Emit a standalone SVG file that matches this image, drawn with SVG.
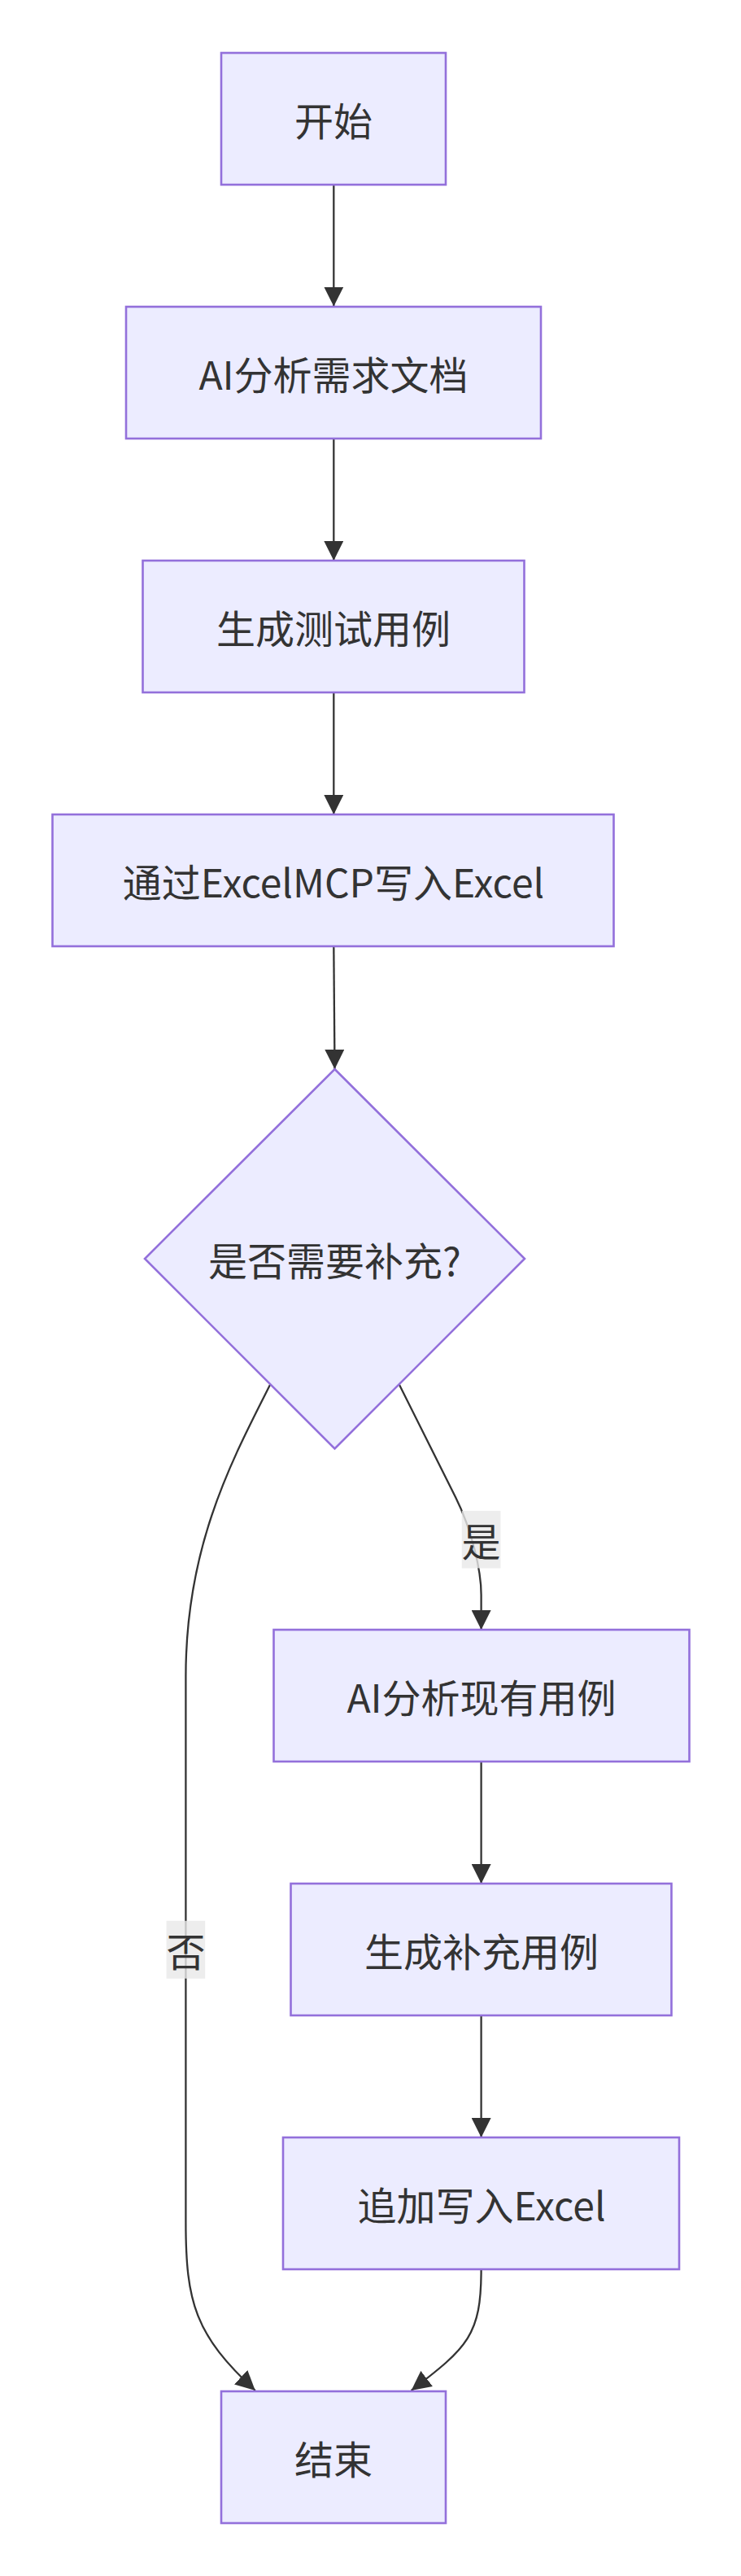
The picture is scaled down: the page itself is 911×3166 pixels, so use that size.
<svg xmlns="http://www.w3.org/2000/svg" width="911" height="3166" viewBox="0 0 911 3166">
<defs>
<style>
.node rect, .node polygon { fill: #ECECFF; stroke: #9370DB; stroke-width: 2.6; }
.label { font-family: "Noto Sans CJK SC", "Noto Sans", sans-serif; font-size: 48px; fill: #333333; text-anchor: middle; dominant-baseline: central; }
.edge { fill: none; stroke: #333333; stroke-width: 2.3; }
.elbg { fill: rgba(232,232,232,0.8); stroke: none; }
</style>
<marker id="arrow" viewBox="0 0 10 10" refX="10" refY="5" markerUnits="userSpaceOnUse" markerWidth="24" markerHeight="24" orient="auto">
<path d="M0,0 L10,5 L0,10 z" fill="#333333"/>
</marker>
</defs>
<rect x="0" y="0" width="911" height="3166" fill="#ffffff"/>
<g id="connectors">
<path class="edge" d="M410.3,227.5 L410.3,376.6" marker-end="url(#arrow)"/>
<path class="edge" d="M410.3,539.3 L410.3,689" marker-end="url(#arrow)"/>
<path class="edge" d="M410.3,852 L410.3,1001" marker-end="url(#arrow)"/>
<path class="edge" d="M410.3,1163.3 L411.5,1314" marker-end="url(#arrow)"/>
<path class="edge" d="M491,1702 L560,1840 C580,1880 591.6,1930 591.6,1960 L591.6,2003" marker-end="url(#arrow)"/>
<path class="edge" d="M332,1702 C285,1795 228.4,1900 228.4,2060 L228.4,2731 C228.4,2830 240,2870 313.8,2938" marker-end="url(#arrow)"/>
<path class="edge" d="M591.6,2165.5 L591.6,2315" marker-end="url(#arrow)"/>
<path class="edge" d="M591.6,2477.6 L591.6,2627" marker-end="url(#arrow)"/>
<path class="edge" d="M591.6,2789.7 C591.6,2870 575,2885 505.6,2938" marker-end="url(#arrow)"/>
<g id="label-yes">
<rect class="elbg" x="567.8" y="1856.9" width="47.6" height="70.5"/>
<text class="label" x="591.6" y="1892">是</text>
</g>
<g id="label-no">
<rect class="elbg" x="204.6" y="2360.8" width="47.6" height="70.9"/>
<text class="label" x="228.4" y="2396">否</text>
</g>
</g>
<g id="node-start" class="node">
<rect x="272" y="65" width="276" height="162"/>
<text class="label" x="410" y="146">开始</text>
</g>
<g id="node-analyze" class="node">
<rect x="155" y="377" width="510" height="162"/>
<text class="label" x="410" y="458">AI分析需求文档</text>
</g>
<g id="node-generate" class="node">
<rect x="175.5" y="689" width="469" height="162"/>
<text class="label" x="410" y="770">生成测试用例</text>
</g>
<g id="node-write" class="node">
<rect x="64.5" y="1001" width="690" height="162"/>
<text class="label" x="410" y="1082">通过ExcelMCP写入Excel</text>
</g>
<g id="node-decision" class="node">
<polygon points="411.5,1314 645,1547 411.5,1780.5 178,1547"/>
<text class="label" x="411.5" y="1547">是否需要补充?</text>
</g>
<g id="node-analyze2" class="node">
<rect x="336.5" y="2003" width="511" height="162"/>
<text class="label" x="592" y="2084">AI分析现有用例</text>
</g>
<g id="node-supplement" class="node">
<rect x="357.5" y="2315" width="468" height="162"/>
<text class="label" x="592" y="2396">生成补充用例</text>
</g>
<g id="node-append" class="node">
<rect x="348" y="2627" width="487" height="162"/>
<text class="label" x="592" y="2708">追加写入Excel</text>
</g>
<g id="node-end" class="node">
<rect x="272" y="2939" width="276" height="162"/>
<text class="label" x="410" y="3020">结束</text>
</g>
</svg>
